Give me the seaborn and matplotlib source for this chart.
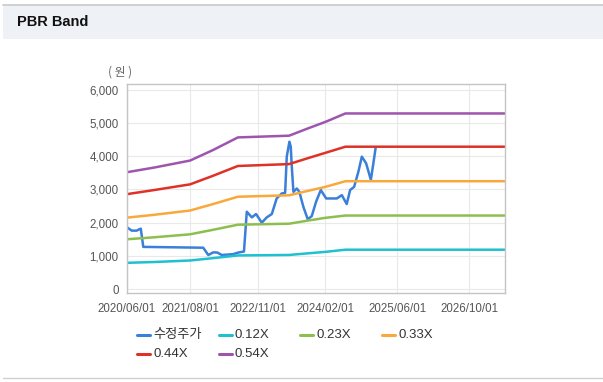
import matplotlib
matplotlib.use("Agg")
import matplotlib.pyplot as plt
import matplotlib.dates as mdates
from matplotlib.lines import Line2D
from matplotlib.patches import Rectangle
import pandas as pd
import seaborn as sns

# price series (수정주가)
price_dates = ["2020-06-01", "2020-07-03", "2020-08-05", "2020-09-02", "2020-09-19",
               "2021-10-29", "2021-12-02", "2022-01-05", "2022-02-01", "2022-03-03",
               "2022-05-18", "2022-06-23", "2022-07-31", "2022-08-19", "2022-09-22",
               "2022-10-21", "2022-11-28", "2023-01-01", "2023-02-04", "2023-03-09",
               "2023-04-12", "2023-05-05", "2023-05-16", "2023-06-03", "2023-06-12",
               "2023-06-19", "2023-06-30", "2023-07-23", "2023-08-09", "2023-09-05",
               "2023-10-05", "2023-11-01", "2023-11-30", "2024-01-01", "2024-02-06",
               "2024-04-18", "2024-05-22", "2024-06-24", "2024-07-17", "2024-08-13",
               "2024-09-11", "2024-10-04", "2024-11-02", "2024-12-04", "2024-12-21",
               "2025-01-05"]
price_vals = [1860, 1760, 1760, 1820, 1270,
              1245, 1025, 1105, 1100, 1025,
              1050, 1100, 1130, 2330, 2160,
              2260, 2000, 2160, 2260, 2730,
              2880, 2900, 3990, 4440, 4290,
              3690, 2930, 3030, 2930, 2480,
              2100, 2200, 2630, 2985, 2730,
              2730, 2830, 2560, 2985, 3080,
              3540, 3990, 3790, 3290, 3790,
              4250]

# PBR band lines
band_dates = ["2020-06-01", "2020-12-01", "2021-08-01", "2022-01-01", "2022-06-20",
              "2023-06-01", "2023-10-01", "2024-02-01", "2024-06-15", "2027-06-01"]
band_012 = [790, 814, 860, 930, 1012, 1027, 1074, 1120, 1185, 1185]
band_023 = [1500, 1559, 1649, 1783, 1939, 1969, 2059, 2146, 2215, 2215]
band_033 = [2152, 2237, 2366, 2558, 2782, 2825, 2954, 3079, 3250, 3250]
band_044 = [2860, 2983, 3155, 3410, 3709, 3766, 3938, 4105, 4290, 4290]
band_054 = [3521, 3661, 3872, 4185, 4570, 4622, 4833, 5038, 5292, 5292]

names = ["수정주가", "0.12X", "0.23X", "0.33X", "0.44X", "0.54X"]
colors = ["#3a7fd9", "#1fc0cf", "#8cbf4e", "#f9a83c", "#de3128", "#9d55ad"]

xticks = ["2020-06-01", "2021-08-01", "2022-11-01", "2024-02-01", "2025-06-01", "2026-10-01"]

rows = [pd.DataFrame({"date": pd.to_datetime(price_dates), "value": price_vals, "series": names[0]})]
for nm, vals in zip(names[1:], [band_012, band_023, band_033, band_044, band_054]):
    rows.append(pd.DataFrame({"date": pd.to_datetime(band_dates), "value": vals, "series": nm}))
df = pd.concat(rows, ignore_index=True)

sns.set_style("white")
plt.rcParams["font.family"] = ["Liberation Sans", "Noto Sans CJK KR", "DejaVu Sans"]

W, H = 603, 382
fig = plt.figure(figsize=(W / 100, H / 100), dpi=100)
fig.patch.set_facecolor("white")

# header bar
fig.add_artist(Rectangle((3 / W, 1 - 39 / H), 1 - 3 / W, 34 / H, transform=fig.transFigure,
                         facecolor="#eef2f7", edgecolor="none"))
fig.add_artist(Line2D([3 / W, 1], [1 - 4.5 / H, 1 - 4.5 / H], transform=fig.transFigure,
                      color="#c8c8c8", lw=1.2))
fig.add_artist(Line2D([3 / W, 1], [1 - 378 / H, 1 - 378 / H], transform=fig.transFigure,
                      color="#d0d0d0", lw=1.0))
fig.text(17 / W, 1 - 22 / H, "PBR Band", fontsize=10.5, fontweight="bold", color="#111111",
         va="center", ha="left")

ax = fig.add_axes([127 / W, 1 - 293 / H, (505 - 127) / W, (293 - 84) / H])
sns.lineplot(data=df, x="date", y="value", hue="series", hue_order=names,
             palette=dict(zip(names, colors)), estimator=None, legend=False,
             linewidth=1.8, ax=ax)

ax.set_xlim(pd.Timestamp("2020-06-01"), pd.Timestamp("2027-05-29"))
ax.set_ylim(-120, 6180)
ax.set_yticks(range(0, 6001, 1000))
ax.set_yticklabels([f"{v:,}" for v in range(0, 6001, 1000)])
ax.set_xticks(pd.to_datetime(xticks))
ax.xaxis.set_major_formatter(mdates.DateFormatter("%Y/%m/%d"))
ax.set_xlabel("")
ax.set_ylabel("")
ax.grid(True, color="#e9e9e9", linewidth=0.8)
ax.set_axisbelow(True)
for s in ax.spines.values():
    s.set_color("#c4c4c4")
    s.set_linewidth(1.0)
ax.tick_params(axis="both", length=4, width=0.8, color="#aaaaaa", labelsize=8.3,
               labelcolor="#555555", pad=2)
ax.tick_params(axis="x", pad=3)

fig.text(120 / W, 1 - 72 / H, "( 원 )", fontsize=8.5, color="#666666", ha="center", va="center",
         family=["Noto Sans CJK KR", "DejaVu Sans"])

# legend, fixed-width columns like the original
for i, (nm, c) in enumerate(zip(names, colors)):
    col, row = i % 4, i // 4
    x0 = 137 + col * 81.7
    y0 = 335 + row * 19
    fig.add_artist(Line2D([x0 / W, (x0 + 13) / W], [1 - y0 / H, 1 - y0 / H],
                          transform=fig.transFigure, color=c, lw=2.2))
    fig.text((x0 + 16) / W, 1 - y0 / H, nm, fontsize=9.5, color="#333333",
             ha="left", va="center")

fig.savefig("out.png", dpi=100)
